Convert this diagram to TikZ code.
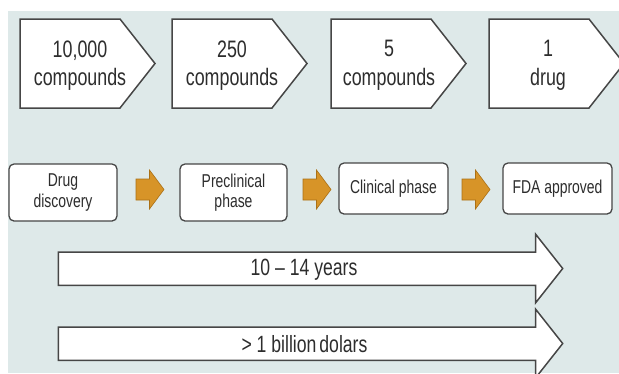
\documentclass[tikz,border=0pt]{standalone}
\usepackage{fontspec}
\setmainfont[FakeStretch=0.75]{Liberation Sans}
\definecolor{panel}{RGB}{222,233,233}
\definecolor{inkgray}{RGB}{45,45,45}
\definecolor{edgegray}{RGB}{70,70,70}
\definecolor{amber}{RGB}{215,148,40}
\definecolor{amberdark}{RGB}{170,112,22}

\begin{document}
\begin{tikzpicture}[x=1pt, y=-1pt,
  chev/.style = {fill=white, draw=edgegray, line width=1.5pt, line join=miter},
  toptext/.style = {text=inkgray, align=center, inner sep=0pt,
                    font=\fontsize{23.8}{28.5}\selectfont},
  stage/.style = {rectangle, rounded corners=5pt, fill=white, draw=edgegray,
                  line width=1.3pt, text=inkgray, align=center, inner sep=0pt,
                  font=\fontsize{18.6}{20.5}\selectfont},
  stagearrow/.style = {fill=amber, draw=amberdark, line width=0.6pt},
  bigarrow/.style = {fill=white, draw=edgegray, line width=1.5pt},
  arrowtext/.style = {text=inkgray, inner sep=0pt,
                      font=\fontsize{23.5}{24}\selectfont},
  ]
  \useasboundingbox (0,0) rectangle (619,373);
  \clip (0,0) rectangle (619,373);
  \fill[panel] (8,11) rectangle (619,373);

  % compounds funnel
  \foreach \L in {20,172,331,489}
    \draw[chev] (\L,19) -- (\L+100,19) -- (\L+135,63.5) -- (\L+100,108) -- (\L,108) -- cycle;
  \node[toptext] (cmp1) at (80,65.5) {10,000\\compounds};
  \node[toptext] (cmp2) at (232,65.5) {250\\compounds};
  \node[toptext] (cmp3) at (389,65.5) {5\\compounds};
  \node[toptext] (cmp4) at (548,65.5) {1\\drug};

  % stages
  \node[stage, minimum width=108pt, minimum height=57pt] (disc) at (63,192.5) {Drug\\discovery};
  \node[stage, minimum width=107pt, minimum height=57pt] (precl) at (233.5,192.5) {Preclinical\\phase};
  \node[stage, minimum width=109pt, minimum height=51pt] (clin) at (393.5,188.5) {Clinical phase};
  \node[stage, minimum width=109pt, minimum height=51pt] (fda) at (557.5,188.5) {FDA approved};

  \foreach \ax in {136,303,462}
    \draw[stagearrow] (\ax,179) -- (\ax+13.5,179) -- (\ax+13.5,170) -- (\ax+28,189.5)
      -- (\ax+13.5,209) -- (\ax+13.5,200) -- (\ax,200) -- cycle;

  % time and cost
  \foreach \dy in {0,75}
    \draw[bigarrow] (58.3,252+\dy) -- (535.7,252+\dy) -- (535.7,234.3+\dy) -- (562.7,268.5+\dy)
      -- (535.7,302.7+\dy) -- (535.7,285.3+\dy) -- (58.3,285.3+\dy) -- cycle;
  \node[arrowtext] (years) at (304,269.5) {10 -- 14 years};
  \node[arrowtext] (cost) at (304.5,344.5) {> 1 billion\hspace{-2pt} dolars};
\end{tikzpicture}
\end{document}
